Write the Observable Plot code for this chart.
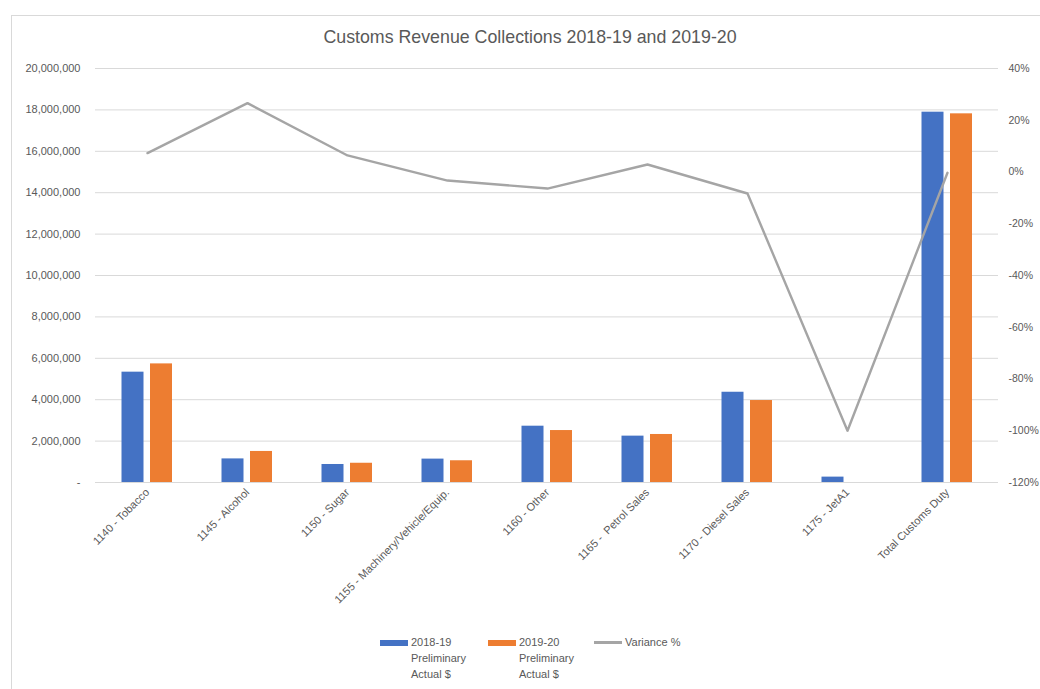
<!DOCTYPE html>
<html>
<head>
<meta charset="utf-8">
<script src="https://cdn.jsdelivr.net/npm/d3@7"></script>
<script src="https://cdn.jsdelivr.net/npm/@observablehq/plot@0.6"></script>
<style>
  html, body { margin: 0; padding: 0; background: #fff; width: 1040px; height: 689px; overflow: hidden; }
  body { font-family: "Liberation Sans", "DejaVu Sans", sans-serif; color: #595959; position: relative; }
  #frame { position: absolute; left: 11px; top: 15px; width: 1100px; height: 800px; border: 1px solid #d9d9d9; box-sizing: border-box; }
  #title { position: absolute; left: 0; width: 1060px; top: 27px; text-align: center; font-size: 17.8px; color: #595959; }
  #chart { position: absolute; left: 0; top: 0; }
  #legend { position: absolute; top: 634px; left: 380px; font-size: 11px; color: #595959; line-height: 16px; }
  .item { position: absolute; top: 0; white-space: nowrap; }
  .sw { position: absolute; top: 6px; width: 28px; height: 6px; }
  .lbl { position: absolute; top: 0; left: 31px; }
</style>
</head>
<body>
<div id="frame"></div>
<div id="title">Customs Revenue Collections 2018-19 and 2019-20</div>
<div id="chart"></div>
<div id="legend"></div>
<script>
// ---- data ----
const categories = ["1140 - Tobacco", "1145 - Alcohol", "1150 - Sugar", "1155 - Machinery/Vehicle/Equip.", "1160 - Other", "1165 -  Petrol Sales", "1170 - Diesel Sales", "1175 - JetA1", "Total Customs Duty"];
const actual2018 = [5330000, 1140000, 870000, 1130000, 2720000, 2240000, 4360000, 260000, 17890000];
const actual2019 = [5730000, 1500000, 930000, 1050000, 2510000, 2320000, 3960000, 0, 17810000];
const variancePct = [7.3, 26.6, 6.4, -3.3, -6.4, 2.9, -8.3, -100, -0.3];
const leftTicks = [0, 2000000, 4000000, 6000000, 8000000, 10000000, 12000000, 14000000, 16000000, 18000000, 20000000];
const rightTicks = [-120, -100, -80, -60, -40, -20, 0, 20, 40];
const seriesNames = ["2018-19 Preliminary Actual $", "2019-20 Preliminary Actual $", "Variance %"];
const colors = ["#4472c4", "#ed7d31", "#a5a5a5"];

const rows = categories.map((c, i) => ({cat: c, a: actual2018[i], b: actual2019[i], v: variancePct[i]}));

// secondary axis mapping (percent -> primary y units)
const pct = d3.scaleLinear().domain([-120, 40]).range([0, 20000000]);

const fmtLeft = d => d === 0 ? "-" : d3.format(",")(d);

const W = 1040, H = 620;
const plot = Plot.plot({
  width: W,
  height: H,
  marginLeft: 95,
  marginRight: 42,
  marginTop: 68,
  marginBottom: H - 482,
  style: {fontFamily: "Liberation Sans, sans-serif", fontSize: "11px", color: "#595959", background: "transparent"},
  x: {domain: categories, padding: 0, label: null},
  y: {domain: [0, 20000000], label: null},
  marks: [
    Plot.gridY(leftTicks, {stroke: "#d9d9d9", strokeOpacity: 1, strokeWidth: 1}),
    Plot.barY(rows, {x: "cat", y: "a", fill: colors[0], insetLeft: 24.5, insetRight: 53.5}),
    Plot.barY(rows, {x: "cat", y: "b", fill: colors[1], insetLeft: 53, insetRight: 25}),
    Plot.line(rows, {x: "cat", y: d => pct(d.v), stroke: colors[2], strokeWidth: 2.4}),
    Plot.axisY(leftTicks, {anchor: "left", tickSize: 0, tickPadding: 15, tickFormat: fmtLeft, fill: "#595959", fontSize: 11}),
    Plot.axisY(rightTicks.map(p => pct(p)), {anchor: "right", tickSize: 0, tickPadding: 10, tickFormat: y => Math.round(pct.invert(y)) + "%", fill: "#595959", fontSize: 10.5, textAnchor: "start"}),
    Plot.axisX({tickRotate: -45, tickSize: 0, tickPadding: 8, fill: "#595959", fontSize: 11, label: null})
  ]
});
document.getElementById("chart").appendChild(plot);

// legend
const lg = document.getElementById("legend");
const items = [
  {x: 0, color: colors[0], lines: ["2018-19", "Preliminary", "Actual $"], type: "bar"},
  {x: 108, color: colors[1], lines: ["2019-20", "Preliminary", "Actual $"], type: "bar"},
  {x: 214, color: colors[2], lines: ["Variance %"], type: "line"}
];
for (const it of items) {
  const d = document.createElement("div");
  d.className = "item";
  d.style.left = it.x + "px";
  const s = document.createElement("div");
  s.className = "sw";
  s.style.background = it.color;
  if (it.type === "line") { s.style.height = "3px"; s.style.top = "7px"; }
  const t = document.createElement("div");
  t.className = "lbl";
  t.innerHTML = it.lines.join("<br>");
  d.appendChild(s); d.appendChild(t);
  lg.appendChild(d);
}
</script>
</body>
</html>
